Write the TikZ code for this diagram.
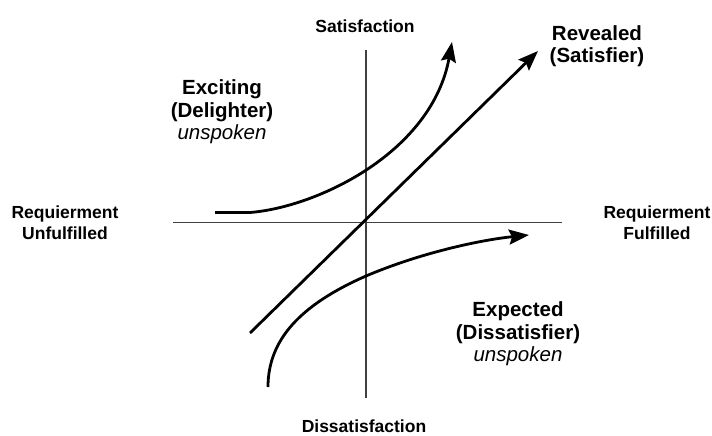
\documentclass[tikz,border=0pt]{standalone}
\usepackage{fontspec}
\setmainfont{Liberation Sans}
\usetikzlibrary{arrows.meta}
\begin{document}
\begin{tikzpicture}[x=1pt,y=-1pt,
  axis/.style={line width=1.4pt, draw=black!75},
  curve/.style={line width=2.8pt, line cap=butt, -{Stealth[length=20pt,width=15pt,inset=3pt]}},
  axlabel/.style={font=\fontsize{17.5}{21}\selectfont\bfseries, align=center, inner sep=0pt},
  typelabel/.style={font=\fontsize{20.5}{22.5}\selectfont\bfseries, align=center, inner sep=0pt}]
\useasboundingbox (0,0) rectangle (712,436);
% axes
\coordinate (hl) at (173,222.5);
\coordinate (hr) at (562,222.5);
\coordinate (vt) at (366,50);
\coordinate (vb) at (366,398);
\draw[axis] (hl) -- (hr);
\draw[axis] (vt) -- (vb);
% axis labels
\node[axlabel] (sat) at (365,26) {Satisfaction};
\node[axlabel] (dis) at (364,426) {Dissatisfaction};
\node[axlabel] (unf) at (65,223) {Requierment\\Unfulfilled};
\node[axlabel] (ful) at (657,223) {Requierment\\Fulfilled};
% curve labels
\node[typelabel] (exc) at (222,112) {Exciting\\(Delighter)\\{\mdseries\itshape unspoken}};
\node[typelabel] (rev) at (597,46) {Revealed\\(Satisfier)};
\node[typelabel] (exp) at (518,334) {Expected\\(Dissatisfier)\\{\mdseries\itshape unspoken}};
% curves
\coordinate (e0) at (215,212.5);
\coordinate (e1) at (250,212.5);
\coordinate (e2) at (452,42);
\draw[curve] (e0) -- (e1) .. controls (318,207) and (432,152) .. (e2);
\coordinate (r0) at (250,333);
\coordinate (r1) at (538,51);
\draw[curve] (r0) -- (r1);
\coordinate (x0) at (268,387);
\coordinate (xm) at (366,276);
\coordinate (x1) at (529,235);
\draw[curve] (x0) .. controls (268,340) and (300,305) .. (xm) .. controls (420,253) and (480,240) .. (x1);
\end{tikzpicture}
\end{document}
